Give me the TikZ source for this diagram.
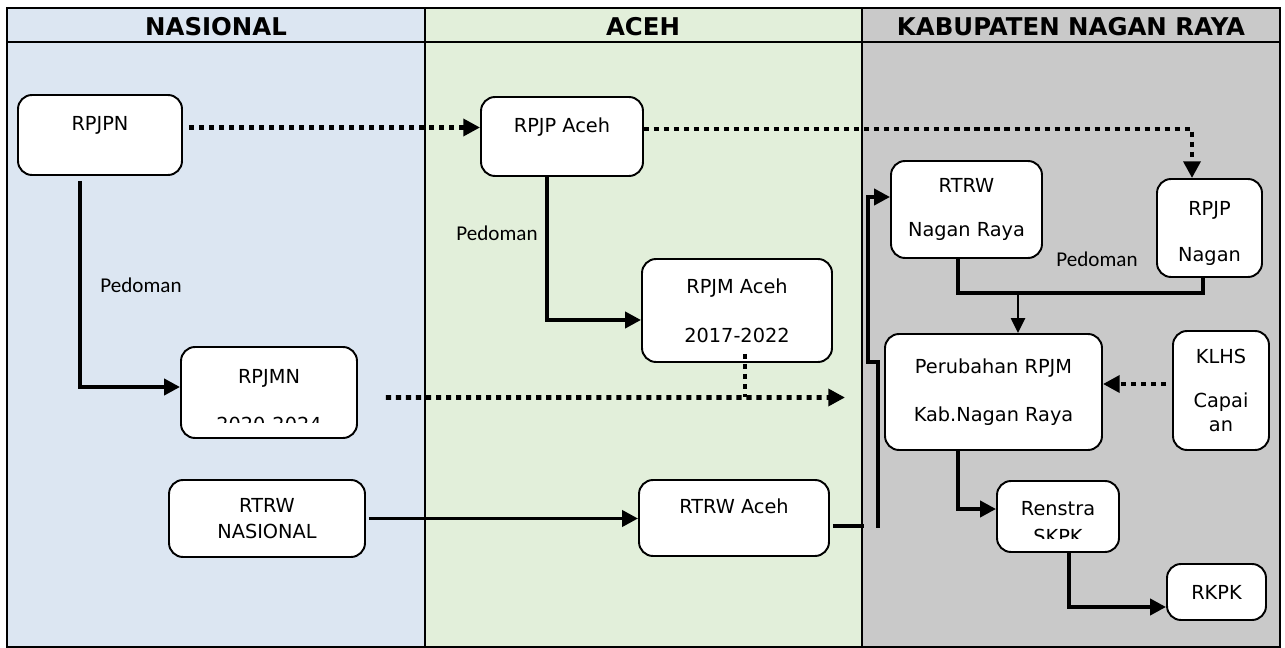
\documentclass[tikz,border=0pt]{standalone}
\usepackage{fontspec}
\setmainfont{DejaVu Sans}
\newfontfamily\pedofont{Carlito}
\usetikzlibrary{arrows.meta}
\definecolor{nasbg}{HTML}{DCE6F2}
\definecolor{acehbg}{HTML}{E2EFDA}
\definecolor{kabbg}{HTML}{C9C9C9}
\tikzstyle{plan} = [
	rectangle,
	rounded corners=0.28cm,
	draw=black,
	line width=1.1pt,
	fill=white,
	align=center,
	inner sep=2pt,
	font=\fontsize{11}{13.5}\selectfont
]
\tikzstyle{upper} = [text height=8pt, text depth=12.8pt]
\tikzstyle{plantext} = [align=center, inner sep=0pt, font=\fontsize{11}{13.5}\selectfont]
\tikzstyle{head} = [font=\bfseries\fontsize{13.9}{16}\selectfont]
\tikzstyle{note} = [font=\pedofont\fontsize{12}{14}\selectfont]
\tikzstyle{link} = [line width=2.2pt]
\tikzstyle{arrow} = [link, -{Triangle[length=9pt,width=9pt]}]
\tikzstyle{thinarrow} = [line width=1.2pt, -{Triangle[length=8.5pt,width=8pt]}]
\tikzstyle{dotlink} = [line width=2.8pt, dash pattern=on 2.9pt off 2.8pt]
\tikzstyle{dotarrow} = [dotlink, -{Triangle[length=9.5pt,width=9.5pt]}]
\begin{document}
\begin{tikzpicture}[x=0.02cm, y=-0.02cm]
        \useasboundingbox (0,0) rectangle (1285,648);
        % columns
        \fill [nasbg] (7,8) rectangle (425,647);
        \fill [acehbg] (425,8) rectangle (862,647);
        \fill [kabbg] (862,8) rectangle (1280,647);
        \draw [line width=1.1pt] (7,8) rectangle (1280,647)
          (7,42) -- (1280,42) (425,8) -- (425,647) (862,8) -- (862,647);
        \node (hnas) [head] at (216,27) {NASIONAL};
        \node (haceh) [head] at (643,27) {ACEH};
        \node (hkab) [head] at (1071,27) {KABUPATEN NAGAN RAYA};

        % nasional
        \node (rpjpn) [plan, upper, minimum width=3.28cm, minimum height=1.6cm] at (100,135) {RPJPN};
        \node (rpjmn) [plan, minimum width=3.52cm, minimum height=1.82cm] at (269,392.5) {};
        \begin{scope}
          \clip (rpjmn.north west) rectangle ([yshift=0.32cm]rpjmn.south east);
          \node (rpjmntext) [plantext] at (269,400.5) {RPJMN\\[14.2pt]2020-2024};
        \end{scope}
        \node (rtrwnas) [plan, minimum width=3.92cm, minimum height=1.54cm] at (267,518.5) {RTRW\\[1.2pt]NASIONAL};

        % aceh
        \node (rpjpaceh) [plan, upper, minimum width=3.24cm, minimum height=1.58cm] at (562,136.5) {RPJP Aceh};
        \node (rpjmaceh) [plan, minimum width=3.8cm, minimum height=2.06cm] at (737,310.5) {RPJM Aceh\\[14.4pt]2017-2022};
        \node (rtrwaceh) [plan, upper, minimum width=3.8cm, minimum height=1.52cm] at (734,518) {RTRW Aceh};

        % kabupaten
        \node (rtrwnagan) [plan, minimum width=3.02cm, minimum height=1.94cm] at (966.5,209.5) {RTRW\\[12pt]Nagan Raya};
        \node (rpjpnagan) [plan, minimum width=2.1cm, minimum height=1.96cm] at (1209.5,228) {};
        \begin{scope}
          \clip (rpjpnagan.north west) rectangle ([yshift=0.26cm]rpjpnagan.south east);
          \node (rpjpnagantext) [plantext] at (1209.5,233.6) {RPJP\\[13.1pt]Nagan};
        \end{scope}
        \node (perubahan) [plan, minimum width=4.34cm, minimum height=2.32cm] at (993.5,392) {Perubahan RPJM\\[13.7pt]Kab.Nagan Raya};
        \node (klhs) [plan, minimum width=1.92cm, minimum height=2.38cm] at (1221,390.5) {KLHS\\[12pt]Capai\\[0.1pt]an};
        \node (renstra) [plan, minimum width=2.44cm, minimum height=1.42cm] at (1058,516.5) {};
        \begin{scope}
          \clip (renstra.north west) rectangle ([yshift=0.28cm]renstra.south east);
          \node (renstratext) [plantext] at (1058,523) {Renstra\\[2.4pt]SKPK};
        \end{scope}
        \node (rkpk) [plan, minimum width=1.98cm, minimum height=1.12cm] at (1216.5,592) {RKPK};

        \node (ped1) [note] at (141,285) {Pedoman};
        \node (ped2) [note] at (497,233) {Pedoman};
        \node (ped3) [note] at (1097,259) {Pedoman};
        \coordinate (rpjmend) at (845,397.5);
        \coordinate (join) at (1018,293);

        % connectors
        \draw [dotarrow, shorten <=0.12cm] ([yshift=0.15cm]rpjpn.east) -- ([yshift=0.15cm]rpjpn.east -| rpjpaceh.west);
        \draw [dotarrow] ([yshift=0.15cm]rpjpaceh.east) -| ([xshift=-0.35cm]rpjpnagan.north);
        \draw [arrow, shorten <=0.1cm] ([xshift=-0.4cm]rpjpn.south) |- ([yshift=0.11cm]rpjmn.west);
        \draw [arrow] ([xshift=-0.3cm]rpjpaceh.south) |- ([yshift=-0.19cm]rpjmaceh.west);
        \draw [dotarrow, shorten <=0.56cm] ([yshift=-0.1cm]rpjmn.east) -- (rpjmend);
        \draw [dotlink] ([xshift=0.16cm,yshift=0.18cm]rpjmaceh.south) -- ([xshift=0.16cm]rpjmaceh.south |- rpjmend);
        \draw [arrow, shorten <=0.06cm] (rtrwnas.east) -- (rtrwnas.east -| rtrwaceh.west);
        \draw [link, shorten <=0.06cm] ([yshift=-0.16cm]rtrwaceh.east) -- ++(34,0);
        \draw [arrow] ([xshift=0.96cm,yshift=-0.2cm]rtrwaceh.east) -- ++(0,-166) -- ++(-10,0) |- ([yshift=0.25cm]rtrwnagan.west);
        \draw [link] ([xshift=-0.17cm]rtrwnagan.south) |- (join) -| ([xshift=-0.13cm]rpjpnagan.south);
        \draw [thinarrow] (join) -- (join |- perubahan.north);
        \draw [dotarrow, shorten <=0.12cm] ([yshift=0.13cm]klhs.west) -- ([yshift=0.13cm]klhs.west -| perubahan.east);
        \draw [arrow] ([xshift=-0.71cm]perubahan.south) |- ([yshift=0.15cm]renstra.west);
        \draw [arrow] ([xshift=0.22cm]renstra.south) |- ([yshift=-0.3cm]rkpk.west);
      \end{tikzpicture}
\end{document}
